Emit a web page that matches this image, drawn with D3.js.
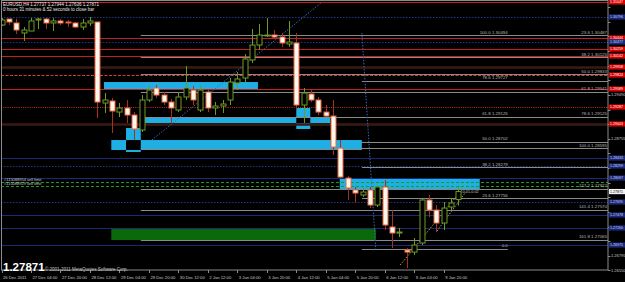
<!DOCTYPE html>
<html>
<head>
<meta charset="utf-8">
<script src="https://cdnjs.cloudflare.com/ajax/libs/d3/7.8.5/d3.min.js"></script>
<style>
body { margin: 0; background: #000; }
svg { display: block; }
text { font-family: "Liberation Sans", Arial, sans-serif; }
</style>
</head>
<body>
<svg id="chart" width="625" height="282"></svg>
<script>
// EURUSD H4 bars, 26 Dec 2011 .. 9 Jan 2012
var opens  = [1.30662,1.30762,1.30695,1.30528,1.30561,1.30745,1.30762,1.30695,1.30729,1.30712,1.30695,1.30628,1.30695,1.30712,1.29354,1.29388,1.29203,1.29271,1.29153,1.28902,1.29405,1.29606,1.29488,1.29371,1.29237,1.29455,1.29572,1.29237,1.29539,1.29271,1.29304,1.29405,1.29690,1.29773,1.30075,1.30326,1.30477,1.30494,1.30460,1.30343,1.30360,1.29321,1.29505,1.29405,1.29203,1.29136,1.28600,1.28097,1.27897,1.27813,1.27897,1.27645,1.27947,1.27277,1.27176,1.26891,1.26857,1.27008,1.27729,1.27561,1.27344,1.27612,1.27737];
var highs  = [1.30779,1.30762,1.30762,1.30628,1.30779,1.30779,1.30779,1.30779,1.30762,1.30745,1.30712,1.30762,1.30796,1.30712,1.29522,1.29438,1.29354,1.29405,1.29203,1.29488,1.29639,1.29656,1.29539,1.29421,1.29539,1.29974,1.29639,1.29656,1.29589,1.29371,1.29405,1.29773,1.29874,1.30176,1.30595,1.30678,1.30779,1.30578,1.30528,1.30729,1.30528,1.29606,1.29572,1.29455,1.29321,1.29405,1.28734,1.28131,1.27947,1.27930,1.27947,1.27980,1.28064,1.27561,1.27260,1.26925,1.27092,1.27763,1.27813,1.27645,1.27695,1.27763,1.27944];
var lows   = [1.30645,1.30662,1.30511,1.30393,1.30561,1.30595,1.30595,1.30561,1.30662,1.30628,1.30611,1.30578,1.30645,1.29103,1.29187,1.28852,1.29120,1.29019,1.28734,1.28868,1.29371,1.29438,1.29321,1.29019,1.29203,1.29405,1.29321,1.29203,1.29203,1.29153,1.29187,1.29321,1.29572,1.29690,1.30025,1.30243,1.30460,1.30444,1.30293,1.30293,1.29237,1.29019,1.29371,1.29153,1.29120,1.28483,1.28097,1.27729,1.27679,1.27779,1.27595,1.27612,1.27227,1.26925,1.27109,1.26590,1.26807,1.26975,1.27444,1.27193,1.27227,1.27561,1.27636];
var closes = [1.30745,1.30712,1.30578,1.30578,1.30729,1.30762,1.30695,1.30729,1.30695,1.30695,1.30628,1.30695,1.30729,1.29371,1.29405,1.29220,1.29271,1.29153,1.28919,1.29405,1.29572,1.29488,1.29371,1.29271,1.29455,1.29606,1.29405,1.29572,1.29271,1.29304,1.29338,1.29706,1.29757,1.30092,1.30326,1.30494,1.30494,1.30460,1.30360,1.30377,1.29321,1.29522,1.29405,1.29203,1.29136,1.28617,1.28114,1.27930,1.27846,1.27863,1.27645,1.27947,1.27310,1.27176,1.27193,1.26857,1.26975,1.27729,1.27561,1.27344,1.27595,1.27679,1.27871];

var timeLabels = ["26 Dec 2011","27 Dec 04:00","27 Dec 20:00","28 Dec 12:00","29 Dec 04:00","29 Dec 20:00","30 Dec 12:00","2 Jan 12:00","3 Jan 04:00","3 Jan 20:00","4 Jan 12:00","5 Jan 04:00","5 Jan 20:00","6 Jan 12:00","9 Jan 04:00","9 Jan 20:00"];
var timeLabelBars = [0,4,8,12,16,20,24,28,32,36,40,44,48,52,56,60];

var priceTicks = [1.30960,1.30715,1.30470,1.30225,1.29980,1.29735,1.29490,1.29245,1.29000,1.28755,1.28510,1.28265,1.28020,1.27775,1.27530,1.27285,1.27040,1.26795,1.26550];

// horizontal levels
var redLevels = [1.31047,1.30444,1.30259,1.30142,1.29589];
var redDashedLevels = [1.29824];
var redDottedLevels = [1.29287];
var brownLevels = [1.29958,1.29003];
var navySolidLevels = [1.28433,1.28097,1.27478,1.27260,1.26975];
var navyDottedLevels = [1.30796,1.30377,1.28299,1.27695];
var sellLimitPrices = [1.28030,1.27963];
var sellLimitTickets = ["#115088954","#115088929"];

// fibonacci retracements
var fibLeftHigh = 1.30494, fibLeftLow = 1.26910;
var fibLeftLevels = [100,78.6,61.8,50,38.2,23.6,0];
var fibRightZero = 1.31071, fibRightHundred = 1.28595;
var fibRightLevels = [23.6,38.2,50,61.8,78.6,100,127.2,141.4,161.8];

// rectangles [startBar, endBar] and [topPrice, bottomPrice]
var cyanZoneBars = [[13.9,34.8],[19.2,44.6],[40.0,41.9],[14.9,48.9],[16.9,18.9],[45.9,64.9]];
var cyanZonePrices = [[1.29706,1.29589],[1.29120,1.29019],[1.29271,1.28919],[1.28734,1.28567],[1.28936,1.28534],[1.28097,1.27897]];
var greenZoneBars = [14.9,50.8];
var greenZonePrices = [1.27243,1.27059];

// trend lines [bar, price] pairs
var blueTrends = [[[20.4,1.28734],[43.5,1.31047]],[[48.9,1.30528],[50.8,1.26891]]];
var oliveTrends = [[[54.1,1.26640],[63.0,1.27980]],[[59.1,1.27210],[63.0,1.27863]]];

var lastPrice = 1.27871;

var svg = d3.select("#chart"),
    W = 625, H = 282, plotR = 608, plotB = 270;

var x = d3.scaleLinear().domain([0, 62]).range([1.5, 458.4]);
var y = d3.scaleLinear().domain([1.30494, 1.27076]).range([35, 239]);

svg.append("rect").attr("width", W).attr("height", H).attr("fill", "#000");
svg.append("defs").append("clipPath").attr("id", "plot")
    .append("rect").attr("x", 1).attr("y", 1).attr("width", plotR - 1).attr("height", plotB - 1);

var plot = svg.append("g").attr("clip-path", "url(#plot)");

// cyan zones, black where two of them overlap (MT4 xor drawing)
var zones = cyanZoneBars.map(function(b, i) {
    return {x0: x(b[0]), x1: x(b[1]), y0: y(cyanZonePrices[i][0]), y1: y(cyanZonePrices[i][1])};
});
plot.append("g").selectAll("rect").data(zones).enter().append("rect")
    .attr("x", function(d) { return d.x0; })
    .attr("y", function(d) { return d.y0; })
    .attr("width", function(d) { return d.x1 - d.x0; })
    .attr("height", function(d) { return d.y1 - d.y0; })
    .attr("fill", "#1eb0e4");
var overlaps = [];
zones.forEach(function(a, i) {
    zones.forEach(function(b, j) {
        if (j <= i) return;
        var ox0 = Math.max(a.x0, b.x0), ox1 = Math.min(a.x1, b.x1),
            oy0 = Math.max(a.y0, b.y0), oy1 = Math.min(a.y1, b.y1);
        if (ox1 > ox0 && oy1 > oy0) overlaps.push({x0: ox0, x1: ox1, y0: oy0, y1: oy1});
    });
});
plot.append("g").selectAll("rect").data(overlaps).enter().append("rect")
    .attr("x", function(d) { return d.x0; })
    .attr("y", function(d) { return d.y0; })
    .attr("width", function(d) { return d.x1 - d.x0; })
    .attr("height", function(d) { return d.y1 - d.y0; })
    .attr("fill", "#000");

plot.append("rect")
    .attr("x", x(greenZoneBars[0])).attr("y", y(greenZonePrices[0]))
    .attr("width", x(greenZoneBars[1]) - x(greenZoneBars[0]))
    .attr("height", y(greenZonePrices[1]) - y(greenZonePrices[0]))
    .attr("fill", "#0a6a0a");

function hline(g, levels, color, dash, width) {
    g.selectAll(null).data(levels).enter().append("line")
        .attr("x1", 1).attr("x2", plotR)
        .attr("y1", function(d) { return Math.round(y(d)) + 0.5; })
        .attr("y2", function(d) { return Math.round(y(d)) + 0.5; })
        .attr("stroke", color)
        .attr("stroke-width", width || 1)
        .attr("stroke-dasharray", dash);
}
var levelsG = plot.append("g");
hline(levelsG, brownLevels, "#3b1a12", null, 2.5);
hline(levelsG, navySolidLevels, "#1a2a78", null, 1);
hline(levelsG, navyDottedLevels, "#1f3590", "1.5,1.5", 1);

// fib lines
var fibG = plot.append("g");
var fibRight = fibRightLevels.map(function(l) {
    return {level: l, price: fibRightZero + (fibRightHundred - fibRightZero) * l / 100};
});
var fibLeft = fibLeftLevels.map(function(l) {
    return {level: l, price: fibLeftLow + (fibLeftHigh - fibLeftLow) * l / 100};
});
fibG.selectAll(null).data(fibRight).enter().append("line")
    .attr("x1", x(18.9)).attr("x2", plotR)
    .attr("y1", function(d) { return Math.round(y(d.price)) + 0.5; })
    .attr("y2", function(d) { return Math.round(y(d.price)) + 0.5; })
    .attr("stroke", "#8a8a8a").attr("stroke-width", 1.2);
fibG.selectAll(null).data(fibLeft).enter().append("line")
    .attr("x1", x(48.9))
    .attr("x2", function(d) { return d.level === 0 ? x(68.7) : plotR; })
    .attr("y1", function(d) { return Math.round(y(d.price)) + 0.5; })
    .attr("y2", function(d) { return Math.round(y(d.price)) + 0.5; })
    .attr("stroke", "#8a8a8a").attr("stroke-width", 1.2);

hline(levelsG, redLevels, "#c81e1e", null, 1);
hline(levelsG, redDashedLevels, "#e03a2a", "3,1.5", 1);
hline(levelsG, redDottedLevels, "#d8281e", "1,1.2", 1);
hline(levelsG, sellLimitPrices, "#1f9a1f", "3,2", 1);

// dotted trend lines
var line = d3.line().x(function(d) { return x(d[0]); }).y(function(d) { return y(d[1]); });
plot.append("g").selectAll("path").data(blueTrends).enter().append("path")
    .attr("d", line).attr("fill", "none")
    .attr("stroke", "#3a6cb4").attr("stroke-width", 1).attr("stroke-dasharray", "1.5,1.5");
plot.append("g").selectAll("path").data(oliveTrends).enter().append("path")
    .attr("d", line).attr("fill", "none")
    .attr("stroke", "#9aa832").attr("stroke-width", 1).attr("stroke-dasharray", "1.5,1.5");

// candles
var bars = d3.range(opens.length);
var candles = plot.append("g");
candles.selectAll("line").data(bars).enter().append("line")
    .attr("x1", function(i) { return Math.round(x(i)) + 0.5; })
    .attr("x2", function(i) { return Math.round(x(i)) + 0.5; })
    .attr("y1", function(i) { return y(highs[i]); })
    .attr("y2", function(i) { return y(lows[i]); })
    .attr("stroke", function(i) { return closes[i] > opens[i] ? "#6f9a22" : "#a8301e"; });
candles.selectAll("rect").data(bars).enter().append("rect")
    .attr("x", function(i) { return Math.round(x(i)) - 2; })
    .attr("width", 5)
    .attr("y", function(i) { return y(Math.max(opens[i], closes[i])); })
    .attr("height", function(i) { return Math.max(1, Math.abs(y(opens[i]) - y(closes[i]))); })
    .attr("fill", function(i) { return closes[i] > opens[i] ? "#000" : "#fff6ee"; })
    .attr("stroke", function(i) { return closes[i] > opens[i] ? "#6f9a22" : "#e8643c"; })
    .attr("stroke-width", 1);

// fib labels
var fmt = d3.format(".1f");
plot.append("g").selectAll("text").data(fibLeft).enter().append("text")
    .attr("x", x(68.7)).attr("y", function(d) { return y(d.price) - 1.5; })
    .attr("text-anchor", "end").attr("font-size", 4.4).attr("fill", "#b8b8b8")
    .text(function(d) { return d.level === 0 ? "0.0" : fmt(d.level) + "  " + d.price.toFixed(5); });
plot.append("g").selectAll("text").data(fibRight).enter().append("text")
    .attr("x", 607).attr("y", function(d) { return y(d.price) - 1.5; })
    .attr("text-anchor", "end").attr("font-size", 4.4).attr("fill", "#b8b8b8")
    .text(function(d) { return fmt(d.level) + "  " + d.price.toFixed(5); });

// sell limit labels
plot.append("g").selectAll("text").data(sellLimitPrices).enter().append("text")
    .attr("x", 4).attr("y", function(d) { return y(d) - 0.8; })
    .attr("font-size", 4).attr("fill", "#c8c8c8")
    .text(function(d, i) { return sellLimitTickets[i] + " sell limit"; });

plot.append("text").attr("x", x(62.4)).attr("y", y(lastPrice) + 1)
    .attr("font-size", 3.8).attr("fill", "#c8c8c8").text("-0.01-0.02");

// header text
svg.append("text").attr("x", 3).attr("y", 6).attr("font-size", 4.5).attr("fill", "#e8e8e8")
    .text("EURUSD,H4  " + [opens[62], highs[62], lows[62], closes[62]].map(function(v) { return v.toFixed(5); }).join(" "));
svg.append("text").attr("x", 3).attr("y", 11).attr("font-size", 4.5).attr("fill", "#e8e8e8")
    .text("0 hours 31 minutes & 52 seconds to close bar");

// right axis
svg.append("rect").attr("x", plotR).attr("y", 0).attr("width", W - plotR).attr("height", H).attr("fill", "#000");
svg.append("rect").attr("x", 0).attr("y", plotB).attr("width", W).attr("height", H - plotB).attr("fill", "#000");
svg.append("rect").attr("x", 1.5).attr("y", 0.5).attr("width", plotR - 1.5).attr("height", plotB - 0.5)
    .attr("fill", "none").attr("stroke", "#8c8c8c").attr("stroke-width", 1);

var redBoxes = redLevels.concat(redDashedLevels, redDottedLevels, brownLevels);
var navyBoxes = navySolidLevels.concat(navyDottedLevels);
var allBoxes = redBoxes.concat(navyBoxes, [lastPrice]);
// tick labels hidden under the line price boxes, as on the terminal
var freeTicks = priceTicks.filter(function(t) {
    return allBoxes.every(function(b) { return Math.abs(y(t) - y(b)) > 5.5; });
});

var axisG = svg.append("g");
axisG.selectAll("line").data(priceTicks).enter().append("line")
    .attr("x1", plotR).attr("x2", plotR + 2.5)
    .attr("y1", function(d) { return Math.round(y(d)) + 0.5; })
    .attr("y2", function(d) { return Math.round(y(d)) + 0.5; })
    .attr("stroke", "#8c8c8c");
axisG.selectAll("text").data(freeTicks).enter().append("text")
    .attr("x", plotR + 3).attr("y", function(d) { return y(d) + 1.5; })
    .attr("font-size", 4).attr("fill", "#c8c8c8")
    .text(function(d) { return d.toFixed(5); });

// price boxes of the lines
function priceBoxes(levels, fill, color) {
    var g = svg.append("g");
    g.selectAll("rect").data(levels).enter().append("rect")
        .attr("x", plotR + 1).attr("width", W - plotR - 1)
        .attr("y", function(d) { return y(d) - 2.6; }).attr("height", 5.2)
        .attr("fill", fill);
    g.selectAll("text").data(levels).enter().append("text")
        .attr("x", plotR + 2).attr("y", function(d) { return y(d) + 1.3; })
        .attr("font-size", 3.6).attr("fill", color)
        .text(function(d) { return d.toFixed(5); });
}
priceBoxes(redBoxes, "#d80000", "#fff");
priceBoxes(navyBoxes, "#1a2a78", "#d0d0ff");
priceBoxes([lastPrice], "#f4f4f4", "#000");

// time axis
var timeG = svg.append("g");
timeG.selectAll("line").data(timeLabelBars).enter().append("line")
    .attr("x1", function(d) { return Math.round(x(d)) + 0.5; })
    .attr("x2", function(d) { return Math.round(x(d)) + 0.5; })
    .attr("y1", plotB).attr("y2", plotB + 3)
    .attr("stroke", "#8c8c8c");
timeG.selectAll("text").data(timeLabelBars).enter().append("text")
    .attr("x", function(d) { return x(d) + 1.5; }).attr("y", plotB + 9)
    .attr("font-size", 4.2).attr("fill", "#c8c8c8")
    .text(function(d, i) { return timeLabels[i]; });

// big price and copyright
svg.append("text").attr("x", 3).attr("y", plotB + 1).attr("font-size", 11.5)
    .attr("font-weight", "bold").attr("fill", "#fff").text(lastPrice.toFixed(5));
svg.append("text").attr("x", 45).attr("y", plotB + 1).attr("font-size", 4.5)
    .attr("fill", "#c8c8c8").text("\u00a9 2001-2011 MetaQuotes Software Corp.");
</script>
</body>
</html>
